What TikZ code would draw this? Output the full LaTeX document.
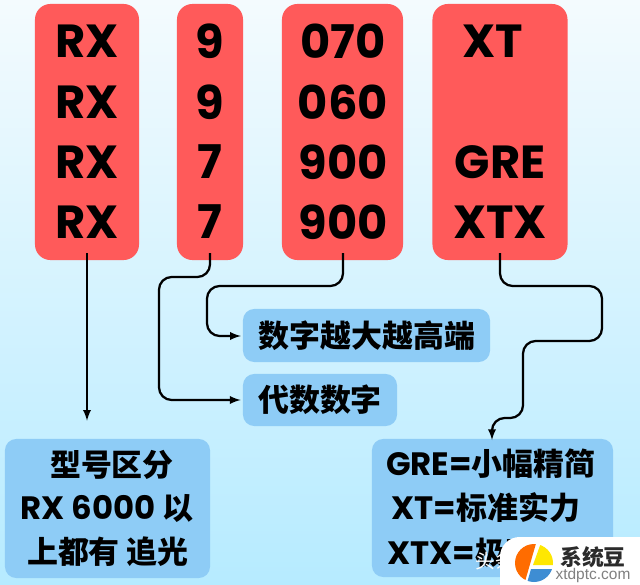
\documentclass[tikz,border=0pt]{standalone}
\usepackage{fontspec}
\setmainfont{Poppins}
\newfontfamily\cjk[BoldFont={Noto Sans CJK SC Black}]{Noto Sans CJK SC}
\usetikzlibrary{positioning,shapes,arrows}
\definecolor{redbox}{HTML}{FF5A5A}
\definecolor{bluebox}{HTML}{8ECCF6}
\definecolor{skytop}{HTML}{F4FBFE}
\definecolor{skybot}{HTML}{B6EBFF}
\definecolor{brand}{HTML}{2B2B2B}
\tikzset{
	redcol/.style={fill=redbox, rounded corners=11pt, inner sep=0pt},
	bluecol/.style={fill=bluebox, rounded corners=8pt, inner sep=0pt},
	big/.style={font=\fontsize{33}{33}\selectfont\bfseries, text=black, inner sep=0pt},
	mid/.style={font=\fontsize{22}{22}\selectfont\cjk\bfseries, text=black, inner sep=0pt},
	link/.style={->, >=latex, line width=1.6pt, black, rounded corners=9pt},
}
\newcommand{\lat}[1]{{\fontspec{Poppins}\bfseries\fontsize{23}{23}\selectfont #1}}

\begin{document}
\begin{tikzpicture}[x=0.025cm, y=-0.025cm]
		\useasboundingbox (0, 0) rectangle (640, 585);
		\shade[top color=skytop, bottom color=skybot] (0, 0) rectangle (640, 585);

		% red columns
		\node[redcol, minimum width=2.6cm, minimum height=6.4cm] (rxcol) at (87, 132) {};
		\node[redcol, minimum width=1.65cm, minimum height=6.4cm] (gencol) at (210, 132) {};
		\node[redcol, minimum width=3.025cm, minimum height=6.4cm] (numcol) at (342.5, 132) {};
		\node[redcol, minimum width=3.375cm, minimum height=6.4cm] (sufcol) at (500, 132) {};

		\node[big] (rxa) at (87, 41) {RX};
		\node[big] (rxb) at (87, 102) {RX};
		\node[big] (rxc) at (87, 162) {RX};
		\node[big] (rxd) at (87, 222) {RX};
		\node[big] (gena) at (210, 41) {9};
		\node[big] (genb) at (210, 102) {9};
		\node[big] (genc) at (210, 162) {7};
		\node[big] (gend) at (210, 222) {7};
		\node[big] (numa) at (343, 41) {070};
		\node[big] (numb) at (343, 102) {060};
		\node[big] (numc) at (343, 162) {900};
		\node[big] (numd) at (343, 222) {900};
		\node[big] (sufa) at (493, 41) {XT};
		\node[big] (sufc) at (500, 162) {GRE};
		\node[big] (sufd) at (500, 222) {XTX};

		% blue notes
		\node[bluecol, minimum width=6.175cm, minimum height=1.325cm] (numnote) at (366.5, 335.5) {};
		\node[mid] (numtxt) at (367, 336) {数字越大越高端};
		\node[bluecol, minimum width=3.85cm, minimum height=1.3cm] (gennote) at (320, 400) {};
		\node[mid] (gentxt) at (320, 400) {代数数字};
		\node[bluecol, minimum width=5.125cm, minimum height=3.475cm] (rxnote) at (107.5, 508.5) {};
		\node[mid] (rxtxta) at (112, 465) {型号区分};
		\node[mid] (rxtxtb) at (107, 508) {\lat{RX 6000} 以};
		\node[mid] (rxtxtc) at (108, 552) {上都有 追光};
		\node[bluecol, minimum width=6.025cm, minimum height=3.45cm] (sufnote) at (492.5, 508) {};
		\node[mid] (suftxta) at (491, 464) {\lat{GRE=}小幅精简};
		\node[mid] (suftxtb) at (486, 508) {\lat{XT=}标准实力};
		\node[mid, anchor=west] (suftxtc) at (387, 553) {\lat{XTX=}极致};

		% connectors
		\coordinate (rxfoot) at (87, 253);
		\coordinate (genfoot) at (210, 253);
		\coordinate (numfoot) at (343, 253);
		\coordinate (suffoot) at (500, 253);
		\draw[link, shorten >=18*0.025cm] (rxfoot) -- (rxfoot |- rxnote.north);
		\draw[link, shorten >=1.5pt] (genfoot) -- (210, 277) -- (159, 277) -- (159, 400) -- (gennote.west);
		\draw[link, shorten >=1.5pt] (numfoot) -- (343, 286) -- (207, 286) -- (207, 336) -- (243, 336);
		\draw[link] (suffoot) -- (500, 286) -- (602, 286) -- (602, 341) -- (523, 341) -- (523, 418) -- (492, 418) -- (492, 440);

		% watermark
		\node[font=\fontsize{14}{14}\selectfont\cjk, text=white, inner sep=0pt] (marka) at (495, 561) {头条};
		\fill[white, rounded corners=14pt] (500, 537) rectangle (680, 620);
		\begin{scope}
			\clip (534, 563) circle (19);
			\fill[orange!85!red] (510, 540) -- (537, 540) -- (524, 585) -- (510, 585) -- cycle;
			\fill[yellow!90!orange] (542, 540) -- (560, 540) -- (560, 565) -- (533, 565) -- cycle;
			\fill[cyan!60!blue!80] (531, 569) -- (560, 569) -- (560, 590) -- (525, 590) -- cycle;
		\end{scope}
		\node[font=\fontsize{15.5}{15.5}\selectfont\cjk\bfseries, text=brand, inner sep=0pt] (brandname) at (593, 557) {系统豆};
		\node[font=\fontsize{11}{11}\selectfont\fontspec{Liberation Sans}, text=gray, inner sep=0pt] (brandurl) at (593, 575) {xtdptc.com};
	\end{tikzpicture}
\end{document}
